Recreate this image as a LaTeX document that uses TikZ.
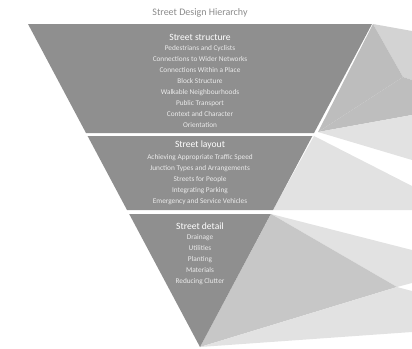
\documentclass[tikz,border=0pt]{standalone}
\usepackage{fontspec}
\setmainfont{Carlito}
\usepackage{tikz}
\usetikzlibrary{positioning}
\definecolor{BandGray}{HTML}{8F8F8F}
\definecolor{FanMid}{HTML}{BDBDBD}
\definecolor{FanLight}{HTML}{D3D3D3}
\definecolor{FanPale}{HTML}{E2E2E2}
\definecolor{TitleGray}{HTML}{8A8A8A}

\begin{document}
\begin{tikzpicture}[
    x=1pt,y=-1pt,
    band/.style={fill=BandGray},
    head/.style={inner sep=0pt,text=white,font=\fontsize{9.6}{11}\selectfont},
    items/.style={inner sep=0pt,align=center,text=white!92!black,font=\fontsize{7.3}{11}\selectfont}
]
\useasboundingbox (0,0) rectangle (412,348);

% fan on the right
\fill[FanLight] (373,24) -- (412,31) -- (412,80) -- (403,77) -- cycle;
\fill[FanMid] (373,24) -- (403,77) -- (318,132) -- cycle;
\fill[FanLight!90!black] (403,77) -- (412,80) -- (412,115) -- (318,132) -- cycle;
\fill[FanPale] (318,132) -- (412,115) -- (412,160) -- cycle;
\fill[FanPale] (314,136) -- (412,186) -- (412,210) -- (273,210) -- cycle;
\fill[FanPale] (271,214) -- (412,250) -- (412,283) -- (397,287) -- cycle;
\fill[FanMid!85!white] (271,214) -- (397,287) -- (200,347) -- cycle;
\fill[FanPale] (200,347) -- (397,287) -- (412,291) -- (412,332) -- cycle;

% the three bands
\fill[band] (28,24) -- (372,24) -- (314,133) -- (86,133) -- cycle;
\fill[band] (87.6,136) -- (312.4,136) -- (273,210) -- (127,210) -- cycle;
\fill[band] (129.2,214) -- (270.8,214) -- (200,347) -- cycle;

% texts
\node[text=TitleGray,font=\fontsize{10}{12}\selectfont] (title) at (200,13) {Street Design Hierarchy};

\node[head] (structure) at (200,37) {Street structure};
\node[items,below=4.5pt of structure] (structurelist) {Pedestrians and Cyclists\\Connections to Wider Networks\\Connections Within a Place\\Block Structure\\Walkable Neighbourhoods\\Public Transport\\Context and Character\\Orientation};

\node[head] (layout) at (200,145) {Street layout};
\node[items,below=4.5pt of layout] (layoutlist) {Achieving Appropriate Traffic Speed\\Junction Types and Arrangements\\Streets for People\\Integrating Parking\\Emergency and Service Vehicles};

\node[head] (detail) at (200,226) {Street detail};
\node[items,below=4.5pt of detail] (detaillist) {Drainage\\Utilities\\Planting\\Materials\\Reducing Clutter};
\end{tikzpicture}
\end{document}
